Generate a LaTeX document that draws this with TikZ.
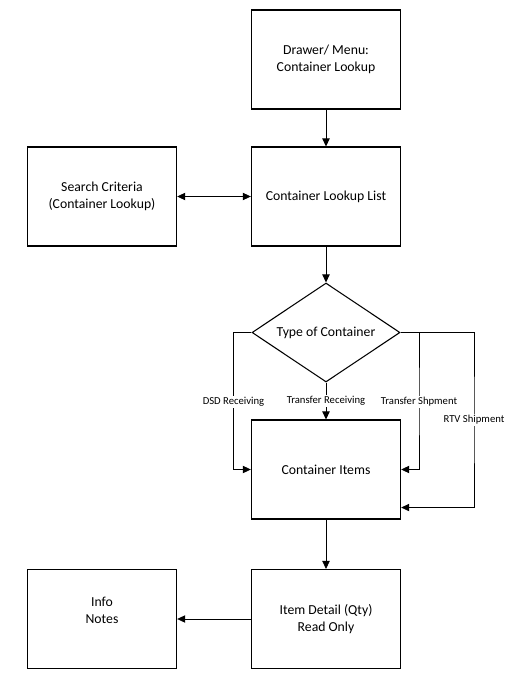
\documentclass[tikz,border=0pt]{standalone}
\usepackage{fontspec}
\setmainfont{Carlito}
\usetikzlibrary{shapes.geometric,arrows.meta}

\begin{document}
\begin{tikzpicture}[x=0.75pt,y=-0.75pt]
\tikzset{every node/.style={inner sep=0pt},
  box/.style={draw,line width=0.8pt,minimum width=112pt,minimum height=74.25pt,align=center,font=\fontsize{10.3}{12.75}\selectfont},
  choice/.style={draw,line width=0.8pt,diamond,aspect=1.5,minimum width=111pt,minimum height=74.25pt,font=\fontsize{10.3}{12.75}\selectfont},
  tag/.style={fill=white,inner sep=1pt,font=\fontsize{8}{9}\selectfont},
  tip/.tip={Triangle[length=6pt,width=5.5pt]},
  link/.style={line width=0.6pt,-tip}}
\useasboundingbox (0,0) rectangle (526,677);
% boxes
\node [box] (menu) at (326,59.5) {Drawer/ Menu:\\Container Lookup};
\node [box] (list) at (326,196.5) {Container Lookup List};
\node [box] (search) at (102,196.5) {Search Criteria\\(Container Lookup)};
\node [choice] (type) at (326,332.5) {Type of Container};
\node [box] (items) at (326,469.5) {Container Items};
\node [box] (detail) at (326,619) {Item Detail (Qty)\\Read Only};
\node [box] (info) at (102,619) {Info\\Notes\\\mbox{}};
% bends
\coordinate (dsd) at (233.5,402);
\coordinate (tship) at (419,402);
\coordinate (rtv) at (474,420);
% arrows
\draw [link] (menu) -- (list);
\draw [link,tip-tip] (search) -- (list);
\draw [link] (list) -- (type);
\draw [link] (type.west) -| (dsd) |- (items.west);
\draw [link] (type) -- (items) node [tag,midway] {Transfer Receiving};
\draw [link] (type.east) -| (tship) |- (items.east);
\draw [link] (type.east) -| (rtv) |- ([yshift=9pt]items.south east);
\draw [link] (items) -- (detail);
\draw [link] (detail) -- (info);
\node [tag] at (dsd) {DSD Receiving};
\node [tag] at (tship) {Transfer Shpment};
\node [tag] at (rtv) {RTV Shipment};
\end{tikzpicture}
\end{document}
